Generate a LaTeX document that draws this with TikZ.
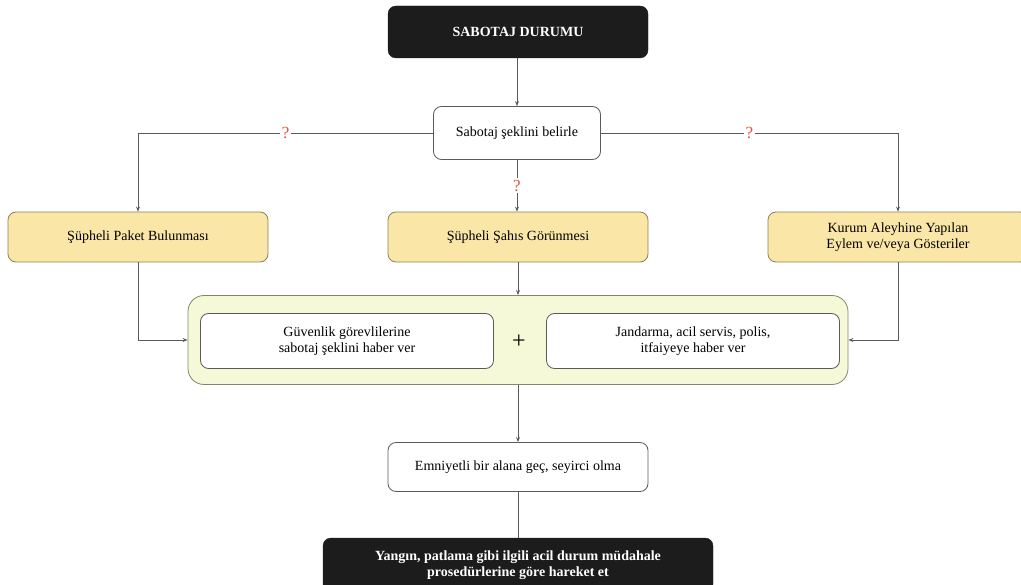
\documentclass[tikz,border=0pt]{standalone}
\usepackage{fontspec}
\setmainfont{Liberation Serif}
\usetikzlibrary{arrows.meta}
\definecolor{linec}{HTML}{5A5A5A}
\definecolor{yfill}{HTML}{FAE6A6}
\definecolor{ydraw}{HTML}{8F8058}
\definecolor{gfill}{HTML}{F5F9D8}
\definecolor{gdraw}{HTML}{808868}
\definecolor{qred}{HTML}{E0553F}
\definecolor{darkbox}{HTML}{1C1C1C}
\tikzset{
  base/.style={rounded corners=8pt, align=center, font=\fontsize{14}{16}\selectfont, inner sep=2pt},
  darknode/.style={base, fill=darkbox, draw=darkbox, text=white, font=\fontsize{14}{16}\selectfont\bfseries},
  whitenode/.style={base, fill=white, draw=linec, line width=0.8pt},
  yellownode/.style={base, fill=yfill, draw=ydraw, line width=0.8pt},
  groupbox/.style={rounded corners=16pt, fill=gfill, draw=gdraw, line width=0.8pt},
  conn/.style={draw=linec, line width=0.8pt, -{Stealth[length=5pt,width=4pt]}},
  plain/.style={draw=linec, line width=0.8pt},
  qmark/.style={fill=white, text=qred, font=\fontsize{17}{19}\selectfont, inner sep=2pt}
}
\begin{document}
\begin{tikzpicture}[x=1pt,y=-1pt]
\useasboundingbox (0,0) rectangle (1021,585);
\clip (0,0) rectangle (1021,585);

% main flow
\node[darknode, minimum width=260pt, minimum height=52pt] (start) at (518,32) {SABOTAJ DURUMU};
\node[whitenode, minimum width=167pt, minimum height=53pt] (decide) at (517,133) {Sabotaj şeklini belirle};

% cases
\node[yellownode, minimum width=260pt, minimum height=50pt] (caseA) at (138,237) {Şüpheli Paket Bulunması};
\node[yellownode, minimum width=260pt, minimum height=50pt] (caseB) at (518,237) {Şüpheli Şahıs Görünmesi};
\node[yellownode, minimum width=260pt, minimum height=50pt] (caseC) at (898,237) {Kurum Aleyhine Yapılan\\Eylem ve/veya Gösteriler};

% grouped notifications
\node[groupbox, minimum width=660pt, minimum height=89pt] (group) at (518,340) {};
\node[whitenode, minimum width=293pt, minimum height=55pt] (notifyA) at (347,341) {Güvenlik görevlilerine\\sabotaj şeklini haber ver};
\node[whitenode, minimum width=293pt, minimum height=55pt] (notifyB) at (693,341) {Jandarma, acil servis, polis,\\itfaiyeye haber ver};
\node[font=\fontsize{24}{26}\selectfont, inner sep=0pt] (plus) at (519,342) {+};

% final steps
\node[whitenode, minimum width=260pt, minimum height=49pt] (safe) at (518,467) {Emniyetli bir alana geç, seyirci olma};
\node[darknode, minimum width=390pt, minimum height=54pt] (final) at (518,565) {Yangın, patlama gibi ilgili acil durum müdahale\\prosedürlerine göre hareket et};

% connectors
\draw[conn] (decide.north |- start.south) -- (decide.north);
\draw[conn] (decide.west) -| node[qmark, pos=0.25] {?} (caseA.north);
\draw[conn] (decide.east) -| node[qmark, pos=0.25] {?} (caseC.north);
\draw[conn] (decide.south) -- node[qmark, pos=0.5] {?} (decide.south |- caseB.north);
\draw[conn] (caseA.south) |- (group.west);
\draw[conn] (caseC.south) |- (group.east);
\draw[conn] (caseB.south) -- (group.north);
\draw[conn] (group.south) -- (safe.north);
\draw[plain] (safe.south) -- (final.north);
\end{tikzpicture}
\end{document}
